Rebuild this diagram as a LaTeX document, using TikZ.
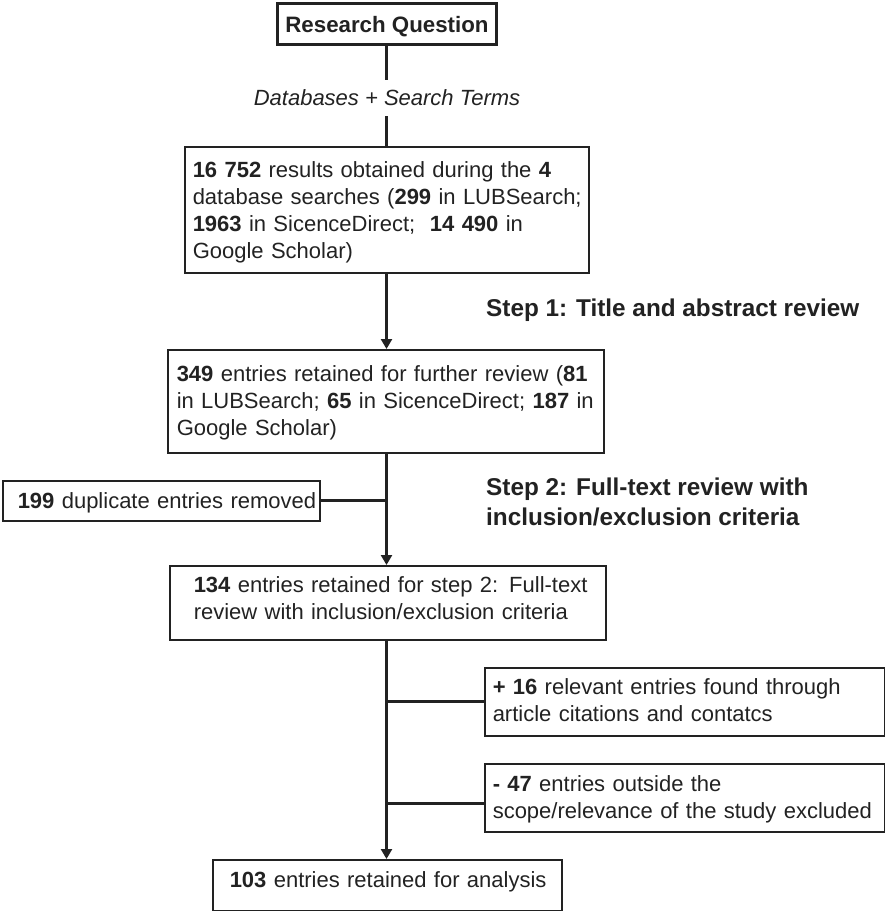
\documentclass[tikz,border=0pt]{standalone}
\usepackage{fontspec}
\setmainfont{Liberation Sans}
\usetikzlibrary{arrows.meta}
\newcommand\oneline[1]{\mbox{#1}}
\definecolor{ink}{HTML}{222222}
\begin{document}
\begin{tikzpicture}[x=1pt,y=-1pt,
  box/.style={draw=ink,text=ink,line width=1.5pt,rectangle,inner ysep=0pt,align=left,anchor=north west,
    font=\fontsize{22}{27}\selectfont},
  conn/.style={draw=ink,line width=3pt},
  arr/.style={draw=ink,fill=ink,line width=3pt,-{Triangle[length=10pt,width=11pt]}},
  steplabel/.style={text=ink,font=\fontsize{24.3}{30}\selectfont\bfseries,align=left,anchor=west,inner sep=0pt}]
\useasboundingbox (0,0) rectangle (885,911);
\coordinate (sp) at (386.5,0);
\node[draw=ink,text=ink,line width=3pt,anchor=north west,minimum width=219,inner sep=0pt,
  text height=29pt,text depth=12pt,
  font=\fontsize{22.3}{26}\selectfont\bfseries] (rq) at (276,2) {Research Question};
\node[inner sep=0pt,text=ink,minimum height=36,font=\fontsize{22}{26}\selectfont\itshape] (db) at (387,98) {Databases + Search Terms};
\node[box,text width=388,inner xsep=8pt,text height=31pt,text depth=95pt] (b1) at (184,146)
 {\oneline{\textbf{16 752} results obtained during the \textbf{4}}\\
  \oneline{database searches (\textbf{299} in LUBSearch;}\\
  \oneline{\textbf{1963} in SicenceDirect;\ \ \textbf{14 490} in}\\
  \oneline{Google Scholar)}};
\node[box,text width=418,inner xsep=9pt,text height=32pt,text depth=71pt] (b2) at (167,349)
 {\oneline{\textbf{349} entries retained for further review (\textbf{81}}\\
  \oneline{in LUBSearch; \textbf{65} in SicenceDirect; \textbf{187} in}\\
  \oneline{Google Scholar)}};
\node[box,text width=287,inner xsep=15pt,text height=28pt,text depth=12pt] (dup) at (2,480)
 {\oneline{\textbf{199} duplicate entries removed}};
\node[box,text width=388,inner xsep=24pt,text height=27pt,text depth=47pt] (b3) at (169,565)
 {\oneline{\textbf{134} entries retained for step 2: Full-text}\\
  \oneline{review with inclusion/exclusion criteria}};
\node[box,text width=384,inner xsep=8pt,text height=27pt,text depth=41pt] (plus) at (484,667)
 {\oneline{\textbf{+ 16} relevant entries found through}\\
  \oneline{article citations and contatcs}};
\node[box,text width=384,inner xsep=8pt,text height=28pt,text depth=40pt] (minus) at (484,763)
 {\oneline{\textbf{- 47} entries outside the}\\
  \oneline{scope/relevance of the study excluded}};
\node[box,text width=315,inner xsep=17pt,text height=28pt,text depth=23pt] (b4) at (212,859)
 {\oneline{\textbf{103} entries retained for analysis}};
\node[steplabel] (s1) at (486,310) {Step 1: Title and abstract review};
\node[steplabel] (s2) at (486,502) {Step 2: Full-text review with\\inclusion/exclusion criteria};
\draw[conn] (rq.south -| sp) -- (db.north -| sp);
\draw[conn] (db.south -| sp) -- (b1.north -| sp);
\draw[arr] (b1.south -| sp) -- (b2.north -| sp);
\draw[conn] (dup.east) -- (dup.east -| sp);
\draw[arr] (b2.south -| sp) -- (b3.north -| sp);
\draw[conn] (plus.west) -- (plus.west -| sp);
\draw[conn] ([yshift=-6pt]minus.west) -- ([yshift=-6pt]minus.west -| sp);
\draw[arr] (b3.south -| sp) -- (b4.north -| sp);
\end{tikzpicture}
\end{document}
